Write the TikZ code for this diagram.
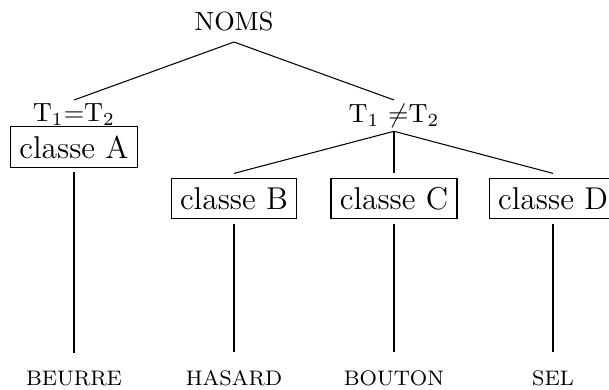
\documentclass[tikz,border=0pt]{standalone}
\usepackage{amsmath,amssymb}
\usepackage{tikz}
\usetikzlibrary{positioning}

\begin{document}
\begin{tikzpicture}[
    x=0.01337cm, y=-0.01337cm,
    lbl/.style={inner sep=1.3pt},
    classe/.style={rectangle, draw, outer sep=2pt, font=\large},
    leaf/.style={inner sep=6.7pt, anchor=base, font=\footnotesize}
]
\useasboundingbox (0,0) rectangle (609,389);

% Root and first level
\node[inner sep=3.8pt, anchor=south] (noms) at (234,42) {NOMS};
\node[lbl, anchor=north] (eq) at (74,100) {T$_1$=T$_2$};
\node[lbl, anchor=north] (neq) at (394,100) {T$_1$ $\neq$T$_2$};

% Classes
\node[classe] (clA) at (74,147) {classe A};
\node[classe] (clB) at (234,198.5) {classe B};
\node[classe] (clC) at (394,198.5) {classe C};
\node[classe] (clD) at (553,198.5) {classe D};

% Leaves
\node[leaf] (beurre) at (74,385) {BEURRE};
\node[leaf] (hasard) at (234,385) {HASARD};
\node[leaf] (bouton) at (394,385) {BOUTON};
\node[leaf] (sel) at (553,385) {SEL};

% Connections
\draw (noms.south) -- (eq.north);
\draw (noms.south) -- (neq.north);
\draw (neq.south) -- (clB.north);
\draw (neq.south) -- (clC.north);
\draw (neq.south) -- (clD.north);
\draw (clA.south) -- (beurre.north);
\draw (clB.south) -- (hasard.north);
\draw (clC.south) -- (bouton.north);
\draw (clD.south) -- (sel.north);

\end{tikzpicture}
\end{document}
